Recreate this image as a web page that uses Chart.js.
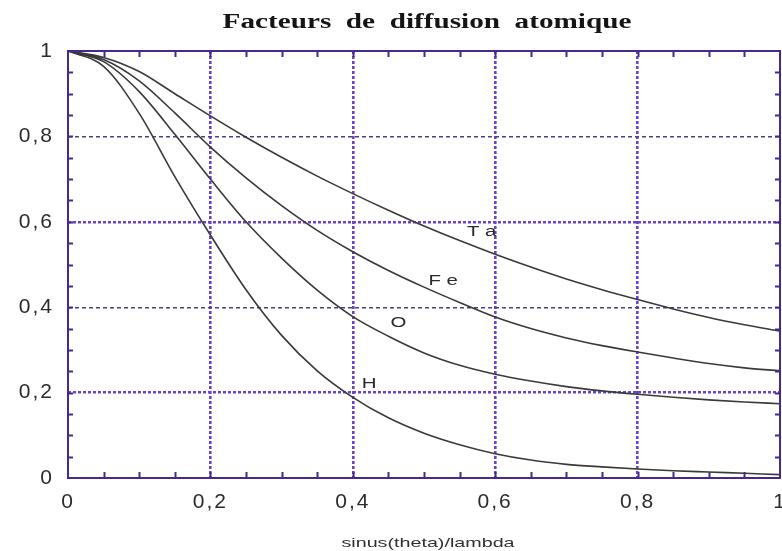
<!DOCTYPE html>
<html>
<head>
<meta charset="utf-8">
<title>Facteurs de diffusion atomique</title>
<script src="https://cdn.jsdelivr.net/npm/chart.js@4/dist/chart.umd.min.js"></script>
<style>
  html, body { margin: 0; padding: 0; background: #ffffff; }
  #chart { display: block; }
</style>
</head>
<body>
<canvas id="chart" width="782" height="551"></canvas>
<script>
// sin(theta)/lambda sampling points
const sinThetaOverLambda = [0, 0.05, 0.10, 0.15, 0.20, 0.25, 0.30, 0.35, 0.40, 0.45, 0.50,
                            0.55, 0.60, 0.65, 0.70, 0.75, 0.80, 0.85, 0.90, 0.95, 1.00];

// normalised atomic scattering factors f/Z
const fTa = [1, 0.985, 0.952, 0.900, 0.848, 0.798, 0.751, 0.707, 0.666, 0.627, 0.590,
             0.556, 0.524, 0.494, 0.466, 0.441, 0.418, 0.396, 0.376, 0.359, 0.344];
const fFe = [1, 0.980, 0.930, 0.855, 0.775, 0.703, 0.638, 0.580, 0.530, 0.486, 0.447,
             0.411, 0.377, 0.350, 0.328, 0.310, 0.295, 0.281, 0.268, 0.258, 0.251];
const fO  = [1, 0.975, 0.905, 0.805, 0.700, 0.600, 0.515, 0.440, 0.378, 0.332, 0.293,
             0.264, 0.243, 0.227, 0.214, 0.204, 0.196, 0.189, 0.183, 0.178, 0.174];
const fH  = [1, 0.964, 0.854, 0.706, 0.569, 0.441, 0.334, 0.251, 0.189, 0.141, 0.105,
             0.078, 0.057, 0.042, 0.032, 0.026, 0.021, 0.017, 0.014, 0.011, 0.008];

const elementNames = ['T a', 'F e', 'O', 'H'];
const xTickLabels = ['0', '0,2', '0,4', '0,6', '0,8', '1'];
const yTickLabels = ['0', '0,2', '0,4', '0,6', '0,8', '1'];

// where each element name sits, in data units (sin(theta)/lambda, f/Z)
const nameAnchors = [
  { x: 0.581, y: 0.575 },
  { x: 0.527, y: 0.461 },
  { x: 0.464, y: 0.363 },
  { x: 0.423, y: 0.220 }
];

const FRAME = '#46288f';
const GRID_DOT = '#6a44cc';
const GRID_DASH = '#4d3f8a';
const CURVE = '#3a3a3a';
const STRETCH = 1.46;

const near = (v, t) => Math.abs(v - t) < 1e-6;

function toPoints(values) {
  return sinThetaOverLambda.map((x, i) => ({ x: x, y: values[i] }));
}

function curve(values) {
  return {
    data: toPoints(values),
    borderColor: CURVE,
    borderWidth: 1.6,
    pointRadius: 0,
    fill: false,
    cubicInterpolationMode: 'monotone'
  };
}

function drawWideText(ctx, text, x, y, font, color, baseline) {
  ctx.save();
  ctx.letterSpacing = '0px';
  ctx.font = font;
  ctx.fillStyle = color;
  ctx.textAlign = 'center';
  ctx.textBaseline = baseline;
  ctx.translate(x, y);
  ctx.scale(STRETCH, 1);
  ctx.fillText(text, 0, 0);
  ctx.restore();
}

// wide tick lettering
const tickSpacing = {
  id: 'tickSpacing',
  beforeDraw(chart) {
    chart.ctx.letterSpacing = '2px';
  }
};

// axis frame with small inward ticks every 0.05
const frame = {
  id: 'frame',
  afterDatasetsDraw(chart) {
    const { ctx, chartArea: a, scales: { x, y } } = chart;
    ctx.save();
    ctx.strokeStyle = FRAME;
    ctx.lineWidth = 2;
    ctx.setLineDash([]);
    ctx.beginPath();
    for (let k = 1; k < 20; k++) {
      const v = k * 0.05;
      const px = Math.round(x.getPixelForValue(v)) + 0.5;
      ctx.moveTo(px, a.bottom); ctx.lineTo(px, a.bottom - 6);
      ctx.moveTo(px, a.top); ctx.lineTo(px, a.top + 6);
      const py = Math.round(y.getPixelForValue(v)) + 0.5;
      ctx.moveTo(a.left, py); ctx.lineTo(a.left + 5, py);
      ctx.moveTo(a.right, py); ctx.lineTo(a.right - 5, py);
    }
    ctx.stroke();
    ctx.strokeRect(a.left, a.top, a.right - a.left, a.bottom - a.top);
    ctx.restore();
  }
};

// chart title, axis title and element names
const texts = {
  id: 'texts',
  afterDraw(chart) {
    const { ctx, scales: { x, y } } = chart;
    drawWideText(ctx, 'Facteurs  de  diffusion  atomique', 427, 28,
                 'bold 20px "Liberation Serif", "Times New Roman", serif', '#151515', 'alphabetic');
    drawWideText(ctx, 'sinus(theta)/lambda', 428, 543,
                 '13.5px "Liberation Sans", Arial, sans-serif', '#303030', 'middle');
    elementNames.forEach((name, i) => {
      const p = nameAnchors[i];
      drawWideText(ctx, name, x.getPixelForValue(p.x), y.getPixelForValue(p.y),
                   '14px "Liberation Sans", Arial, sans-serif', '#2a2a2a', 'middle');
    });
  }
};

new Chart(document.getElementById('chart'), {
  type: 'line',
  data: {
    datasets: [curve(fTa), curve(fFe), curve(fO), curve(fH)]
  },
  options: {
    responsive: false,
    animation: false,
    devicePixelRatio: 1,
    layout: { padding: { top: 51, right: 2, bottom: 0, left: 0 } },
    plugins: {
      legend: { display: false },
      tooltip: { enabled: false },
      title: { display: false }
    },
    scales: {
      x: {
        type: 'linear',
        min: 0,
        max: 1,
        ticks: {
          stepSize: 0.2,
          autoSkip: false,
          maxRotation: 0,
          padding: 12,
          color: '#2b2b2b',
          font: { family: '"Liberation Sans", Arial, sans-serif', size: 21 },
          callback: (v, i) => xTickLabels[i]
        },
        grid: {
          drawTicks: false,
          color: c => (c.tick && c.tick.value > 0.01 && c.tick.value < 0.99) ? GRID_DOT : 'rgba(0,0,0,0)',
          lineWidth: 2.6
        },
        border: { display: false, dash: [3, 2] },
        afterFit(s) { s.height = 73; s.paddingLeft = 0; s.paddingRight = 0; }
      },
      y: {
        type: 'linear',
        min: 0,
        max: 1,
        ticks: {
          stepSize: 0.2,
          autoSkip: false,
          padding: 14,
          color: '#2b2b2b',
          font: { family: '"Liberation Sans", Arial, sans-serif', size: 21 },
          callback: (v, i) => yTickLabels[i]
        },
        grid: {
          drawTicks: false,
          color: c => {
            const v = c.tick ? c.tick.value : 0;
            if (near(v, 0.2) || near(v, 0.6)) return GRID_DOT;
            if (near(v, 0.4) || near(v, 0.8)) return GRID_DASH;
            return 'rgba(0,0,0,0)';
          },
          lineWidth: c => {
            const v = c.tick ? c.tick.value : 0;
            return (near(v, 0.2) || near(v, 0.6)) ? 2.6 : 1.4;
          }
        },
        border: {
          display: false,
          dash: c => {
            const v = c.tick ? c.tick.value : 0;
            return (near(v, 0.2) || near(v, 0.6)) ? [3, 2] : [4, 3];
          }
        },
        afterFit(s) { s.width = 68; s.paddingTop = 0; s.paddingBottom = 0; }
      }
    }
  },
  plugins: [tickSpacing, frame, texts]
});
</script>
</body>
</html>
